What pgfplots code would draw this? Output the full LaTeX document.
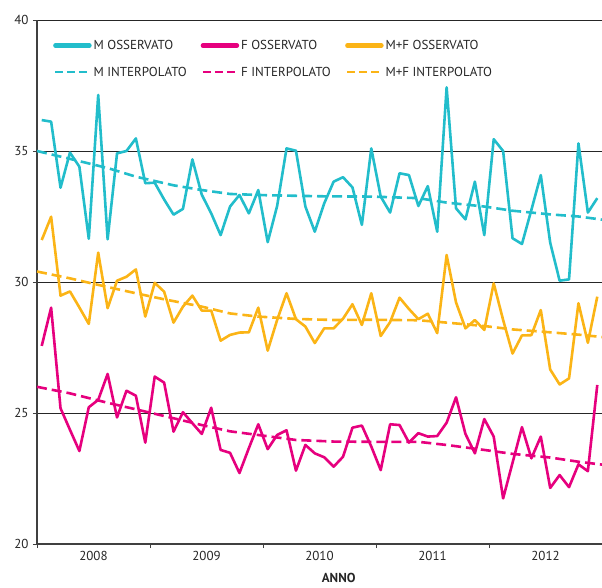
\documentclass[border=0pt]{standalone}
\usepackage{fontspec}
\setmainfont{PT Sans}
\usepackage{pgfplots}
\pgfplotsset{compat=1.18}
\definecolor{cM}{HTML}{22BDCB}
\definecolor{cF}{HTML}{E6007E}
\definecolor{cMF}{HTML}{FBB416}
\definecolor{txt}{HTML}{262626}

\pgfplotstableread{
x y
0 36.18
1 36.12
2 33.6
3 34.94
4 34.4
5 31.65
6 37.14
7 31.63
8 34.91
9 35.0
10 35.48
11 33.77
12 33.79
13 33.15
14 32.57
15 32.79
16 34.68
17 33.33
18 32.62
19 31.79
20 32.88
21 33.32
22 32.62
23 33.51
24 31.52
25 32.9
26 35.1
27 35.01
28 32.88
29 31.92
30 33.0
31 33.83
32 34.0
33 33.61
34 32.18
35 35.1
36 33.26
37 32.65
38 34.15
39 34.08
40 32.9
41 33.66
42 31.92
43 37.43
44 32.81
45 32.39
46 33.83
47 31.79
48 35.45
49 35.0
50 31.67
51 31.45
52 32.75
53 34.08
54 31.5
55 30.05
56 30.1
57 35.29
58 32.65
59 33.2
}\Mobs

\pgfplotstableread{
x y
0 27.56
1 29.02
2 25.18
3 24.36
4 23.55
5 25.22
6 25.5
7 26.49
8 24.83
9 25.85
10 25.66
11 23.87
12 26.39
13 26.16
14 24.29
15 25.03
16 24.61
17 24.2
18 25.2
19 23.59
20 23.48
21 22.71
22 23.66
23 24.57
24 23.62
25 24.16
26 24.34
27 22.8
28 23.78
29 23.46
30 23.31
31 22.95
32 23.33
33 24.44
34 24.52
35 23.72
36 22.82
37 24.57
38 24.54
39 23.87
40 24.23
41 24.1
42 24.12
43 24.63
44 25.6
45 24.2
46 23.46
47 24.77
48 24.1
49 21.74
50 23.1
51 24.46
52 23.27
53 24.1
54 22.14
55 22.63
56 22.17
57 23.04
58 22.78
59 26.07
}\Fobs

\pgfplotstableread{
x y
0 31.6
1 32.49
2 29.48
3 29.64
4 29.03
5 28.4
6 31.12
7 29.0
8 30.05
9 30.2
10 30.48
11 28.68
12 29.97
13 29.63
14 28.45
15 29.06
16 29.48
17 28.91
18 28.91
19 27.76
20 27.98
21 28.07
22 28.08
23 29.02
24 27.38
25 28.55
26 29.57
27 28.58
28 28.3
29 27.67
30 28.23
31 28.23
32 28.6
33 29.15
34 28.36
35 29.57
36 27.94
37 28.47
38 29.4
39 28.97
40 28.58
41 28.79
42 28.05
43 31.03
44 29.22
45 28.23
46 28.55
47 28.17
48 29.95
49 28.55
50 27.27
51 27.96
52 27.97
53 28.93
54 26.66
55 26.09
56 26.32
57 29.19
58 27.68
59 29.44
}\MFobs

\pgfplotstableread{
x y
-0.5 35.0
3 34.7
7 34.35
10 34.02
14 33.69
17 33.51
20 33.36
24 33.31
30 33.27
35 33.26
40 33.2
43 33.03
47 32.88
50 32.72
54 32.58
57 32.5
59.5 32.38
}\Mint

\pgfplotstableread{
x y
-0.5 26.0
3 25.75
7 25.39
10 25.14
14 24.8
17 24.54
20 24.3
23 24.16
27 23.97
31 23.91
35 23.9
40 23.9
43 23.78
47 23.59
50 23.44
54 23.3
57 23.14
59.5 23.03
}\Fint

\pgfplotstableread{
x y
-0.5 30.4
3 30.14
6 29.89
10 29.57
13 29.34
17 29.06
20 28.8
23 28.68
27 28.59
31 28.55
35 28.56
40 28.54
43 28.45
47 28.32
50 28.19
54 28.08
57 27.99
59.5 27.9
}\MFint

\begin{document}
\begin{tikzpicture}
\useasboundingbox (-37bp,-44bp) rectangle (565bp,544bp);
\begin{axis}[
 scale only axis, width=565bp, height=524bp,
 at={(0,0)}, anchor=south west,
 xmin=-0.5, xmax=59.5, ymin=20, ymax=40,
 axis x line*=bottom, axis y line*=left,
 axis line style={draw=black!75, line width=1.3bp},
 xtick={5.5,17.5,29.5,41.5,53.5},
 xticklabels={2008,2009,2010,2011,2012},
 minor xtick={-0.5,11.5,23.5,35.5,47.5,59.5},
 ytick={20,25,30,35,40},
 minor ytick={20,25,30,35,40},
 major tick length=0pt, minor tick length=4bp,
 tick align=outside,
 minor tick style={draw=black!75, line width=0.8bp},
 ymajorgrids, grid style={black!85, line width=0.9bp},
 /pgf/number format/assume math mode=true,
 ticklabel style={font=\fontsize{13bp}{15bp}\selectfont, text=txt},
 yticklabel style={xshift=-5bp},
 xticklabel style={yshift=-4bp},
 xlabel={ANNO},
 xlabel style={at={(axis description cs:0.534,0)}, anchor=center, yshift=-34bp, font=\fontsize{13bp}{15bp}\selectfont\bfseries, text=txt},
 legend columns=3,
 legend image code/.code={\draw[#1] (0bp,0bp) -- (34bp,0bp);},
 legend style={draw=none, fill=none, at={(rel axis cs:0,1)}, anchor=north west,
   xshift=13bp, yshift=-16bp, font=\fontsize{13bp}{15bp}\selectfont, text=txt,
   /tikz/every even column/.append style={column sep=0bp},
   row sep=12bp, cells={anchor=west}},
]
\addplot[forget plot, cM, line width=2.6bp, dash pattern=on 10bp off 5bp] table {\Mint};
\addplot[forget plot, cF, line width=2.6bp, dash pattern=on 10bp off 5bp] table {\Fint};
\addplot[forget plot, cMF, line width=2.6bp, dash pattern=on 10bp off 5bp] table {\MFint};
\addplot[forget plot, cMF, line width=2.6bp, line join=round] table {\MFobs};
\addplot[forget plot, cF, line width=2.6bp, line join=round] table {\Fobs};
\addplot[forget plot, cM, line width=2.6bp, line join=round] table {\Mobs};

\addlegendimage{cM, line width=4.5bp, line cap=round}
\addlegendentry{\makebox[105bp][l]{M OSSERVATO}}
\addlegendimage{cF, line width=4.5bp, line cap=round}
\addlegendentry{\makebox[102bp][l]{F OSSERVATO}}
\addlegendimage{cMF, line width=4.5bp, line cap=round}
\addlegendentry{M+F OSSERVATO}
\addlegendimage{cM, line width=2bp, dash pattern=on 8bp off 4bp}
\addlegendentry{\makebox[105bp][l]{M INTERPOLATO}}
\addlegendimage{cF, line width=2bp, dash pattern=on 8bp off 4bp}
\addlegendentry{\makebox[102bp][l]{F INTERPOLATO}}
\addlegendimage{cMF, line width=2bp, dash pattern=on 8bp off 4bp}
\addlegendentry{M+F INTERPOLATO}
\end{axis}
\end{tikzpicture}
\end{document}
